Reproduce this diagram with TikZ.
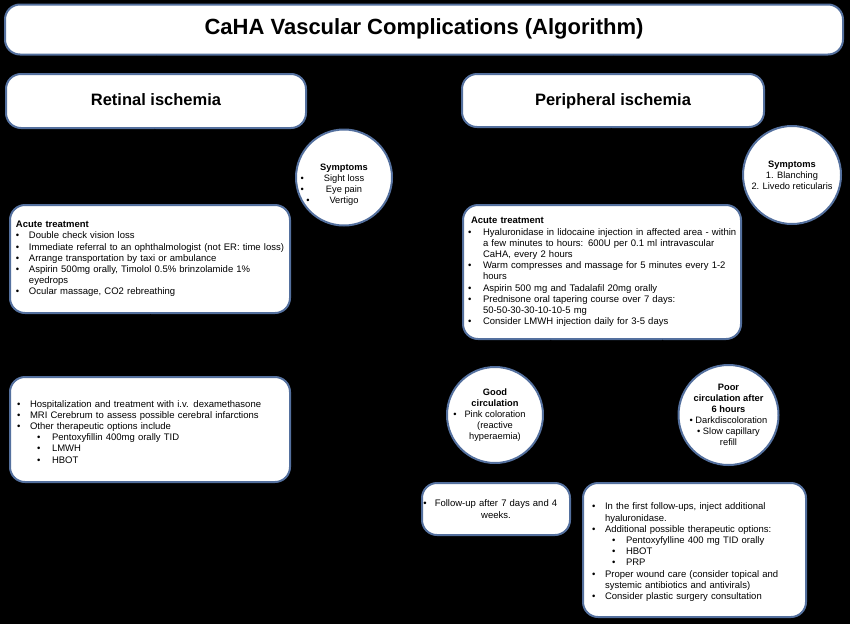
\documentclass[tikz,border=0pt]{standalone}
\usepackage{fontspec}
\setmainfont{Liberation Sans}
\usepackage{enumitem}
\usetikzlibrary{positioning, arrows.meta, shapes.geometric}
\definecolor{FrameColor}{RGB}{84,112,158}
\setlist[itemize]{label=\textbullet, nosep, leftmargin=13pt, labelwidth=13pt, labelsep=0pt, align=left, rightmargin=-15pt}
\setlist[itemize,2]{leftmargin=22pt, labelwidth=15pt}
\newcommand{\hangbul}[1]{\llap{\textbullet\hspace{#1}}}

\begin{document}
\begin{tikzpicture}[x=1pt, y=-1pt,
    frame/.style={draw=FrameColor, line width=2pt, fill=white, rounded corners=15pt},
    headbox/.style={frame, font=\fontsize{16.5}{20}\selectfont\bfseries, inner sep=0pt,
      text height=0.98em, text depth=0pt},
    textbox/.style={frame, font=\fontsize{9.5}{11.2}\selectfont, align=left},
    sympt/.style={circle, draw=FrameColor, line width=2pt, fill=white, inner sep=0pt,
      align=center, font=\fontsize{9.3}{11}\selectfont},
    conn/.style={draw=black, thick, -{Latex[length=2mm]}}]
  \fill[black] (0,0) rectangle (850,624);

  % headings
  \node[headbox, minimum width=838, minimum height=50,
    font=\fontsize{22}{26}\selectfont\bfseries] (title) at (424,29.5) {CaHA Vascular Complications (Algorithm)};
  \node[headbox, minimum width=300, minimum height=54] (retinal) at (156,101) {Retinal ischemia};
  \node[headbox, minimum width=302, minimum height=53] (periph) at (613,100.5) {Peripheral ischemia};

  % symptoms
  \node[sympt, minimum size=96] (symL) at (344,177.5)
    {\rule{0pt}{20pt}\textbf{Symptoms}\\\hangbul{20pt}Sight loss\\\hangbul{22pt}Eye pain\\\hangbul{20pt}Vertigo};
  \node[sympt, minimum size=98] (symR) at (792,175)
    {\textbf{Symptoms}\\1. Blanching\\2. Livedo reticularis};

  % retinal branch
  \node[textbox, text width=268, inner xsep=6pt, minimum height=108] (acuteL) at (150,259) {%
    \textbf{Acute treatment}
    \begin{itemize}
      \item Double check vision loss
      \item Immediate referral to an ophthalmologist (not ER: time loss)
      \item Arrange transportation by taxi or ambulance
      \item Aspirin 500mg orally, Timolol 0.5\% brinzolamide 1\%\newline eyedrops
      \item Ocular massage, CO2 rebreathing
    \end{itemize}};
  \node[textbox, text width=266, inner xsep=7pt, minimum height=105] (hospL) at (150,429.5) {%
    \begin{itemize}
      \item Hospitalization and treatment with i.v. dexamethasone
      \item MRI Cerebrum to assess possible cerebral infarctions
      \item Other therapeutic options include
      \begin{itemize}
        \item Pentoxyfillin 400mg orally TID
        \item LMWH
        \item HBOT
      \end{itemize}
    \end{itemize}};

  % peripheral branch
  \node[textbox, text width=268, inner xsep=5pt, minimum height=134] (acuteR) at (602,272) {%
    \hspace*{3pt}\textbf{Acute treatment}
    \begin{itemize}[leftmargin=15pt, labelwidth=15pt]
      \item Hyaluronidase in lidocaine injection in affected area - within\newline a few minutes to hours: 600U per 0.1 ml intravascular\newline CaHA, every 2 hours
      \item Warm compresses and massage for 5 minutes every 1-2\newline hours
      \item Aspirin 500 mg and Tadalafil 20mg orally
      \item Prednisone oral tapering course over 7 days:\newline 50-50-30-30-10-10-5 mg
      \item Consider LMWH injection daily for 3-5 days
    \end{itemize}};
  \node[sympt, minimum size=96] (good) at (495,415)
    {\textbf{Good}\\\textbf{circulation}\\\hangbul{8pt}Pink coloration\\(reactive\\hyperaemia)};
  \node[sympt, minimum size=100] (poor) at (728.5,415)
    {\textbf{Poor}\\\textbf{circulation after}\\\textbf{6 hours}\\\textbullet{} Darkdiscoloration\\\textbullet{} Slow capillary\\refill};
  \node[textbox, align=center, text width=136, inner xsep=6pt, minimum height=52] (follow) at (496,509)
    {\hangbul{8pt}Follow-up after 7 days and 4\\weeks.};
  \node[textbox, text width=205, inner xsep=9pt, minimum height=134] (further) at (694.5,550) {%
    \begin{itemize}
      \item In the first follow-ups, inject additional\newline hyaluronidase.
      \item Additional possible therapeutic options:
      \begin{itemize}[leftmargin=21pt, labelwidth=14pt]
        \item Pentoxyfylline 400 mg TID orally
        \item HBOT
        \item PRP
      \end{itemize}
      \item Proper wound care (consider topical and\newline systemic antibiotics and antivirals)
      \item Consider plastic surgery consultation
    \end{itemize}};

  % connectors (black on black)
  \draw[conn] (retinal |- title.south) -- (retinal);
  \draw[conn] (periph |- title.south) -- (periph);
  \draw[conn] (retinal) -- (acuteL);
  \draw[conn] (acuteL) -- (hospL);
  \draw[conn] (periph) -- (acuteR);
  \draw[conn] (acuteR) -- (good);
  \draw[conn] (acuteR) -- (poor);
  \draw[conn] (good) -- (follow);
  \draw[conn] (poor) -- (further);
\end{tikzpicture}
\end{document}
